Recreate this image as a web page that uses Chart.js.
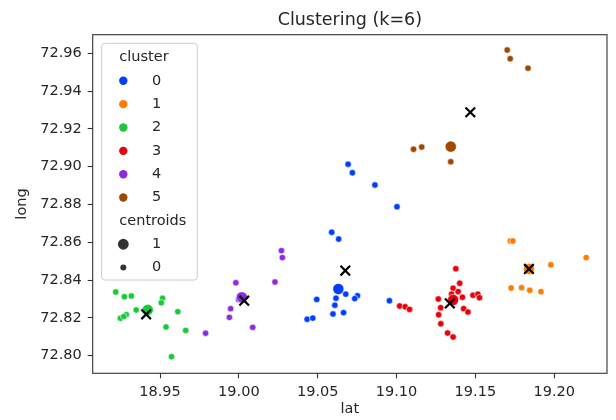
<!DOCTYPE html>
<html><head><meta charset="utf-8">
<script src="https://cdn.jsdelivr.net/npm/chart.js@4.4.1/dist/chart.umd.min.js"></script>
<style>html,body{margin:0;padding:0;background:#fff}#wrap{width:616px;height:420px;position:relative}</style>
</head><body><div id="wrap"><canvas id="c"></canvas></div>
<script>
// ---- data ----
const clusterNames = ['0', '1', '2', '3', '4', '5'];
const clusterColors = ['#023eff', '#ff7c00', '#1ac938', '#e8000b', '#8b2be2', '#9f4800'];

const lat0  = [19.0693, 19.0720, 19.0863, 19.1003, 19.0589, 19.0633, 19.0631, 19.0494, 19.0616, 19.0678, 19.0752, 19.0735, 19.0609, 19.0597, 19.0664, 19.0433, 19.0469, 19.0955];
const long0 = [72.9013, 72.8968, 72.8903, 72.8788, 72.8653, 72.8617, 72.8353, 72.8298, 72.8304, 72.8326, 72.8317, 72.8302, 72.8267, 72.8221, 72.8228, 72.8193, 72.8199, 72.8291];
const cen0  = [0,0,0,0,0,0,1,0,0,0,0,0,0,0,0,0,0,0];

const lat1  = [19.1722, 19.1738, 19.1840, 19.1979, 19.2203, 19.1727, 19.1793, 19.1845, 19.1916];
const long1 = [72.8607, 72.8607, 72.8459, 72.8481, 72.8519, 72.8358, 72.8360, 72.8346, 72.8339];
const cen1  = [0,0,1,0,0,0,0,0,0];

const lat2  = [18.9219, 18.9274, 18.9318, 18.9516, 18.9508, 18.9349, 18.9422, 18.9286, 18.9249, 18.9270, 18.9613, 18.9538, 18.9663, 18.9573];
const long2 = [72.8337, 72.8312, 72.8316, 72.8304, 72.8280, 72.8242, 72.8242, 72.8217, 72.8198, 72.8207, 72.8233, 72.8152, 72.8134, 72.7995];
const cen2  = [0,0,0,0,0,0,1,0,0,0,0,0,0,0];

const lat3  = [19.1020, 19.1055, 19.1083, 19.1376, 19.1401, 19.1359, 19.1391, 19.1349, 19.1418, 19.1485, 19.1516, 19.1526, 19.1265, 19.1359, 19.1280, 19.1426, 19.1453, 19.1267, 19.1281, 19.1324, 19.1359];
const long3 = [72.8263, 72.8259, 72.8245, 72.8460, 72.8383, 72.8357, 72.8339, 72.8326, 72.8309, 72.8320, 72.8326, 72.8307, 72.8300, 72.8295, 72.8254, 72.8249, 72.8231, 72.8217, 72.8169, 72.8120, 72.8099];
const cen3  = [0,0,0,0,0,0,0,0,0,0,0,0,0,1,0,0,0,0,0,0,0];

const lat4  = [18.9981, 19.0229, 18.9998, 19.0019, 18.9948, 18.9940, 19.0088, 18.9789, 19.0270, 19.0276];
const long4 = [72.8386, 72.8390, 72.8298, 72.8309, 72.8249, 72.8203, 72.8150, 72.8119, 72.8556, 72.8519];
const cen4  = [0,0,0,1,0,0,0,0,0,0];

const lat5  = [19.1702, 19.1721, 19.1834, 19.1344, 19.1108, 19.1160, 19.1344];
const long5 = [72.9617, 72.9571, 72.9521, 72.9106, 72.9092, 72.9104, 72.9026];
const cen5  = [0,0,0,1,0,0,0];

const centroidLat  = [19.0675, 19.1840, 18.9412, 19.1338, 19.0034, 19.1468];
const centroidLong = [72.8450, 72.8459, 72.8219, 72.8277, 72.8291, 72.9288];

const xTicks = [18.95, 19.00, 19.05, 19.10, 19.15, 19.20];
const yTicks = [72.80, 72.82, 72.84, 72.86, 72.88, 72.90, 72.92, 72.94, 72.96];
const xRange = [18.9073, 19.2335];
const yRange = [72.7907, 72.9698];
const centroidLegendLabels = ['1', '0'];

// ---- build ----
const FONT = '"DejaVu Sans", "Liberation Sans", sans-serif';
const TEXT = '#262626';
const LINE = '#333333';
Chart.defaults.font.family = FONT;

const lats = [lat0, lat1, lat2, lat3, lat4, lat5];
const longs = [long0, long1, long2, long3, long4, long5];
const cens = [cen0, cen1, cen2, cen3, cen4, cen5];

const centroidSet = {
  label: 'centroid',
  data: centroidLat.map((x, i) => ({x, y: centroidLong[i]})),
  pointStyle: 'crossRot',
  pointRadius: 6.8,
  borderColor: '#000000',
  backgroundColor: '#000000',
  borderWidth: 2.2
};
const clusterSets = clusterNames.map((name, i) => ({
  label: 'cluster ' + name,
  data: lats[i].map((x, j) => ({x, y: longs[i][j]})),
  backgroundColor: clusterColors[i],
  borderColor: '#ffffff',
  borderWidth: 0.6,
  pointRadius: cens[i].map(f => f ? 5.6 : 3.2)
}));

const framePlugin = {
  id: 'frame',
  afterDatasetsDraw(chart) {
    const {ctx, chartArea: a} = chart;
    ctx.save();
    ctx.strokeStyle = LINE;
    ctx.lineWidth = 1.1;
    ctx.strokeRect(a.left, a.top, a.right - a.left, a.bottom - a.top);
    ctx.restore();
  }
};

const legendPlugin = {
  id: 'clusterLegend',
  afterDraw(chart) {
    const ctx = chart.ctx;
    ctx.save();
    const x0 = 101.7, y0 = 43.3, w = 95.6, h = 236.7, r = 3;
    ctx.beginPath();
    ctx.moveTo(x0 + r, y0);
    ctx.arcTo(x0 + w, y0, x0 + w, y0 + h, r);
    ctx.arcTo(x0 + w, y0 + h, x0, y0 + h, r);
    ctx.arcTo(x0, y0 + h, x0, y0, r);
    ctx.arcTo(x0, y0, x0 + w, y0, r);
    ctx.closePath();
    ctx.fillStyle = 'rgba(255,255,255,0.8)';
    ctx.fill();
    ctx.strokeStyle = '#cccccc';
    ctx.lineWidth = 1;
    ctx.stroke();

    ctx.font = '14.5px ' + FONT;
    ctx.fillStyle = TEXT;
    ctx.textBaseline = 'middle';
    ctx.textAlign = 'left';
    const step = 23.35;
    ctx.fillText('cluster', 119.3, 57);
    clusterNames.forEach((n, i) => {
      const y = 80.8 + i * step;
      ctx.beginPath();
      ctx.arc(123.3, y, 4.2, 0, Math.PI * 2);
      ctx.fillStyle = clusterColors[i];
      ctx.fill();
      ctx.fillStyle = TEXT;
      ctx.textAlign = 'center';
      ctx.fillText(n, 156.7, y);
      ctx.textAlign = 'left';
    });
    const yc = 80.8 + 6 * step;
    ctx.fillText('centroids', 119.3, yc);
    const sizes = [5.4, 3.0];
    centroidLegendLabels.forEach((n, i) => {
      const y = yc + (i + 1) * step;
      ctx.beginPath();
      ctx.arc(123.3, y, sizes[i], 0, Math.PI * 2);
      ctx.fillStyle = '#333333';
      ctx.fill();
      ctx.fillStyle = TEXT;
      ctx.textAlign = 'center';
      ctx.fillText(n, 156.7, y);
      ctx.textAlign = 'left';
    });
    ctx.restore();
  }
};

const tickFont = {family: FONT, size: 14.5};

new Chart(document.getElementById('c'), {
  type: 'scatter',
  data: {datasets: [centroidSet, ...clusterSets]},
  options: {
    responsive: true,
    maintainAspectRatio: false,
    animation: false,
    events: [],
    layout: {padding: {left: 0, right: 3, top: 0, bottom: 0}},
    plugins: {
      legend: {display: false},
      tooltip: {enabled: false},
      title: {
        display: true,
        text: 'Clustering (k=6)',
        fullSize: false,
        color: TEXT,
        font: {family: FONT, size: 17.5, weight: 'normal'},
        padding: {top: 9.5, bottom: 4.2}
      }
    },
    scales: {
      x: {
        type: 'linear',
        min: xRange[0], max: xRange[1],
        afterBuildTicks: s => { s.ticks = xTicks.map(v => ({value: v})); },
        afterFit: s => { s.height = 46.7; },
        ticks: {callback: v => Number(v).toFixed(2), font: tickFont, color: TEXT, padding: 5, maxRotation: 0, autoSkip: false},
        grid: {display: true, drawOnChartArea: false, drawTicks: true, tickLength: 5, tickColor: LINE, tickWidth: 1.1},
        border: {display: false},
        title: {display: true, text: 'lat', color: TEXT, font: tickFont, padding: {top: 0, bottom: 2.3}}
      },
      y: {
        type: 'linear',
        min: yRange[0], max: yRange[1],
        afterBuildTicks: s => { s.ticks = yTicks.map(v => ({value: v})); },
        afterFit: s => { s.width = 92.7; },
        ticks: {callback: v => Number(v).toFixed(2), font: tickFont, color: TEXT, padding: 6, autoSkip: false},
        grid: {display: true, drawOnChartArea: false, drawTicks: true, tickLength: 5, tickColor: LINE, tickWidth: 1.1},
        border: {display: false},
        title: {display: true, text: 'long', color: TEXT, font: tickFont, padding: {top: 13.3, bottom: 0}}
      }
    }
  },
  plugins: [framePlugin, legendPlugin]
});
</script>
</body></html>
